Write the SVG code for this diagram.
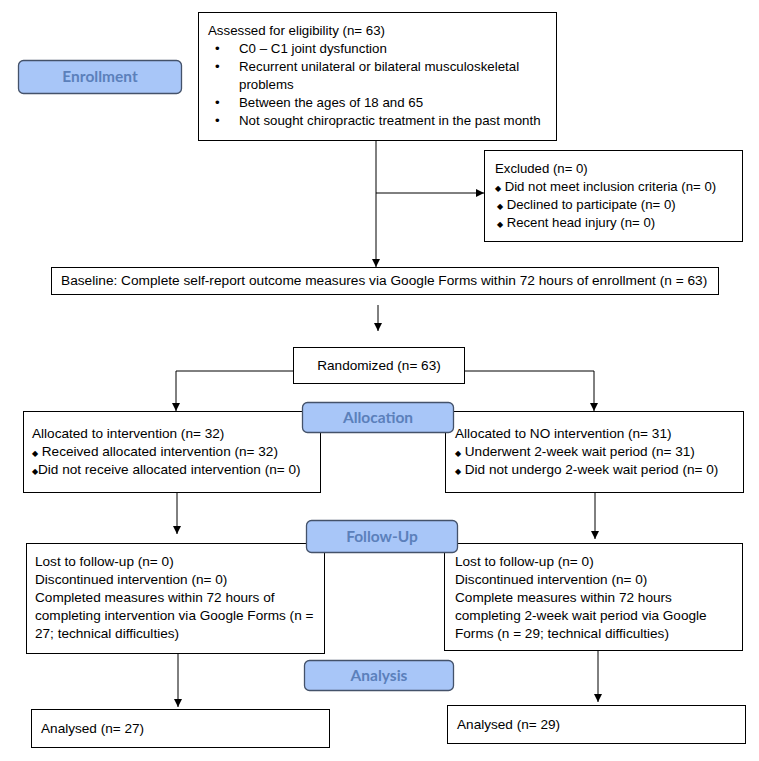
<svg xmlns="http://www.w3.org/2000/svg" width="759" height="761" viewBox="0 0 759 761">
<style>
.box{fill:#ffffff;stroke:#000000;stroke-width:1}
.phase{fill:#a8c6f8;stroke:#44526a;stroke-width:1.3}
.pt{font-family:Lato,"Open Sans",sans-serif;font-weight:bold;font-size:15.5px;fill:#5b80bb;text-anchor:middle}
.t{font-family:"Liberation Sans",Arial,sans-serif;font-size:13.6px;fill:#000000}
.e{font-size:13.3px}
.x{font-size:13.2px}
.b{font-size:13.7px}
.d{font-size:8px}
.c{fill:none;stroke:#000000;stroke-width:1}
</style>
<defs>
<marker id="ah" viewBox="0 0 8 10" refX="8" refY="5" markerWidth="8" markerHeight="10" markerUnits="userSpaceOnUse" orient="auto-start-reverse">
<path d="M0,1 L8,5 L0,9 z" fill="#000000"/>
</marker>
</defs>
<rect width="759" height="761" fill="#ffffff"/>
<g id="connectors">
<path class="c" d="M376,140 V267" marker-end="url(#ah)"/>
<path class="c" d="M376,193 H484" marker-end="url(#ah)"/>
<path class="c" d="M378,305 V331" marker-end="url(#ah)"/>
<path class="c" d="M293,371 H176 V411" marker-end="url(#ah)"/>
<path class="c" d="M464,371 H594 V411" marker-end="url(#ah)"/>
<path class="c" d="M177,492 V534" marker-end="url(#ah)"/>
<path class="c" d="M595,492 V539" marker-end="url(#ah)"/>
<path class="c" d="M178,653 V707" marker-end="url(#ah)"/>
<path class="c" d="M598,650 V702" marker-end="url(#ah)"/>
</g>
<g id="enrollment">
<rect class="phase" x="18.5" y="60.5" width="163" height="33" rx="5"/>
<text class="pt" x="100" y="82">Enrollment</text>
</g>
<g id="eligibility">
<rect class="box" x="198.5" y="12.5" width="358" height="128"/>
<text class="t e" x="208" y="35">Assessed for eligibility (n= 63)</text>
<text class="t e" x="215" y="53">•</text>
<text class="t e" x="239" y="53">C0 – C1 joint dysfunction</text>
<text class="t e" x="215" y="71">•</text>
<text class="t e" x="239" y="71">Recurrent unilateral or bilateral musculoskeletal</text>
<text class="t e" x="239" y="89">problems</text>
<text class="t e" x="215" y="107">•</text>
<text class="t e" x="239" y="107">Between the ages of 18 and 65</text>
<text class="t e" x="215" y="125">•</text>
<text class="t e" x="239" y="125">Not sought chiropractic treatment in the past month</text>
</g>
<g id="excluded">
<rect class="box" x="484.5" y="150.5" width="258" height="91"/>
<text class="t x" x="495" y="173">Excluded (n= 0)</text>
<text class="t x" x="495" y="191"><tspan class="d">◆</tspan> Did not meet inclusion criteria (n= 0)</text>
<text class="t x" x="497" y="209"><tspan class="d">◆</tspan>  Declined to participate (n= 0)</text>
<text class="t x" x="497" y="227"><tspan class="d">◆</tspan>  Recent head injury (n= 0)</text>
</g>
<g id="baseline">
<rect class="box" x="51.5" y="267.5" width="667" height="27"/>
<text class="t b" x="61" y="285">Baseline: Complete self-report outcome measures via Google Forms within 72 hours of enrollment (n = 63)</text>
</g>
<g id="randomized">
<rect class="box" x="293.5" y="347.5" width="171" height="36"/>
<text class="t" x="379" y="370" text-anchor="middle">Randomized (n= 63)</text>
</g>
<g id="alloc-left">
<rect class="box" x="23.5" y="411.5" width="297" height="81"/>
<text class="t" x="32" y="438">Allocated to intervention (n= 32)</text>
<text class="t" x="32" y="456"><tspan class="d">◆</tspan> Received allocated intervention (n= 32)</text>
<text class="t" x="32" y="474"><tspan class="d">◆</tspan>Did not receive allocated intervention (n= 0)</text>
</g>
<g id="alloc-right">
<rect class="box" x="445.5" y="411.5" width="298" height="81"/>
<text class="t" x="455" y="438">Allocated to NO intervention (n= 31)</text>
<text class="t" x="455" y="456"><tspan class="d">◆</tspan> Underwent 2-week wait period (n= 31)</text>
<text class="t" x="455" y="474"><tspan class="d">◆</tspan> Did not undergo 2-week wait period (n= 0)</text>
</g>
<g id="allocation">
<rect class="phase" x="302.5" y="402.5" width="151" height="30" rx="5"/>
<text class="pt" x="378" y="423">Allocation</text>
</g>
<g id="follow-left">
<rect class="box" x="26.5" y="543.5" width="298" height="110"/>
<text class="t" x="35" y="566">Lost to follow-up (n= 0)</text>
<text class="t" x="35" y="584">Discontinued intervention (n= 0)</text>
<text class="t" x="35" y="602">Completed measures within 72 hours of</text>
<text class="t" x="35" y="620">completing intervention via Google Forms (n =</text>
<text class="t" x="35" y="638">27; technical difficulties)</text>
</g>
<g id="follow-right">
<rect class="box" x="444.5" y="543.5" width="298" height="107"/>
<text class="t" x="455" y="566">Lost to follow-up (n= 0)</text>
<text class="t" x="455" y="584">Discontinued intervention (n= 0)</text>
<text class="t" x="455" y="602">Complete measures within 72 hours</text>
<text class="t" x="455" y="620">completing 2-week wait period via Google</text>
<text class="t" x="455" y="638">Forms (n = 29; technical difficulties)</text>
</g>
<g id="follow-up">
<rect class="phase" x="306.5" y="520.5" width="151" height="32" rx="5"/>
<text class="pt" x="382" y="542">Follow-Up</text>
</g>
<g id="analysis">
<rect class="phase" x="304.5" y="660.5" width="149" height="30" rx="5"/>
<text class="pt" x="379" y="681">Analysis</text>
</g>
<g id="analysed-left">
<rect class="box" x="31.5" y="709.5" width="298" height="38"/>
<text class="t" x="41" y="733">Analysed (n= 27)</text>
</g>
<g id="analysed-right">
<rect class="box" x="447.5" y="705.5" width="298" height="38"/>
<text class="t" x="457" y="729">Analysed (n= 29)</text>
</g>
</svg>
